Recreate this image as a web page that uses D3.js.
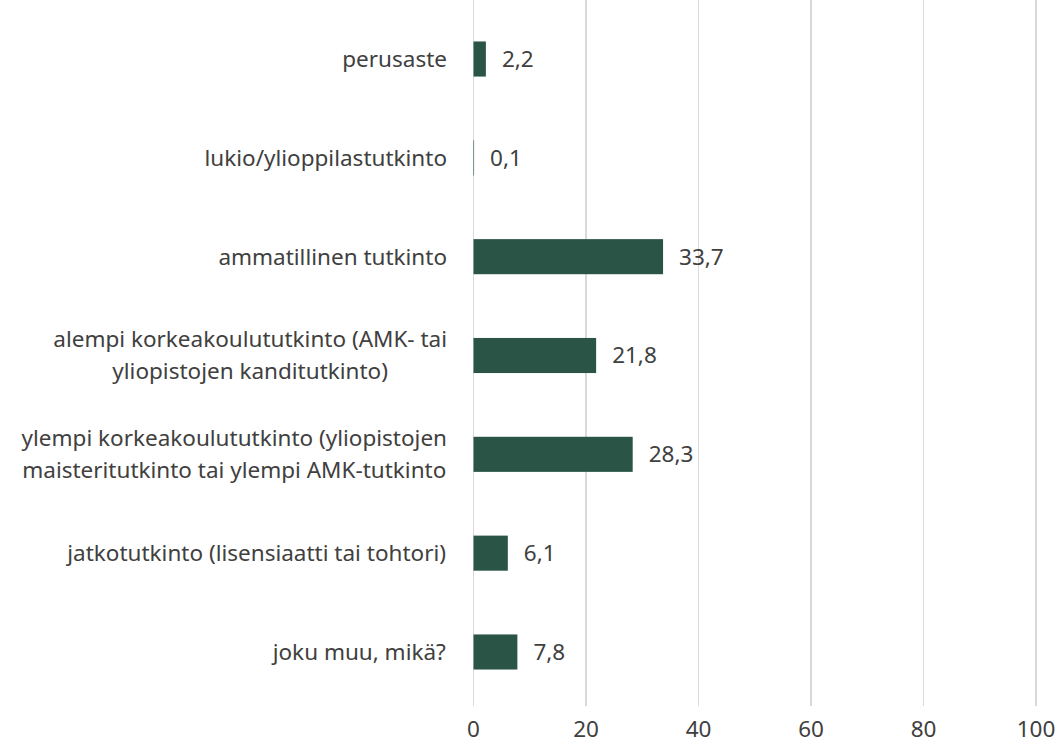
<!DOCTYPE html>
<html lang="fi">
<head>
<meta charset="utf-8">
<title>koulutus</title>
<script src="https://cdn.jsdelivr.net/npm/d3@7"></script>
<style>
  body { margin: 0; background: #fff; font-family: "Noto Sans", sans-serif; }
  .grid line { stroke: #d9d9d9; stroke-width: 1.5px; shape-rendering: crispEdges; }
  .bar { fill: #2a5446; }
  text { fill: #404040; font-size: 22.5px; }
</style>
</head>
<body>
<script>
var categories = [
  ["perusaste"],
  ["lukio/ylioppilastutkinto"],
  ["ammatillinen tutkinto"],
  ["alempi korkeakoulututkinto (AMK- tai", "yliopistojen kanditutkinto)"],
  ["ylempi korkeakoulututkinto (yliopistojen", "maisteritutkinto tai ylempi AMK-tutkinto"],
  ["jatkotutkinto (lisensiaatti tai tohtori)"],
  ["joku muu, mikä?"]
];
var values = [2.2, 0.1, 33.7, 21.8, 28.3, 6.1, 7.8];
var ticks = [0, 20, 40, 60, 80, 100];

var w = 1060, h = 746,
    lineStep = 32;
var fi = d3.formatLocale({decimal: ",", thousands: " ", grouping: [3], currency: ["", " €"]});
var fmt = fi.format(".1f");

var svg = d3.select("body").append("svg")
  .attr("width", w)
  .attr("height", h)
  .style("display", "block");

var x = d3.scaleLinear().domain([0, 100]).range([473.5, 1036]);
var y = d3.scaleBand()
  .domain(d3.range(categories.length))
  .range([9.6, 701.4])
  .paddingInner(0.645)
  .paddingOuter(0.3225);

// gridlines
svg.append("g").attr("class", "grid")
  .selectAll("line").data(ticks).enter().append("line")
  .attr("x1", function(d) { return x(d); })
  .attr("x2", function(d) { return x(d); })
  .attr("y1", 0)
  .attr("y2", 706);

// tick labels
svg.append("g").selectAll("text").data(ticks).enter().append("text")
  .attr("x", function(d) { return x(d); })
  .attr("y", 729)
  .attr("dy", "0.35em")
  .attr("text-anchor", "middle")
  .text(function(d) { return d; });

// bars
svg.append("g").selectAll("rect").data(values).enter().append("rect")
  .attr("class", "bar")
  .attr("x", x(0))
  .attr("y", function(d, i) { return y(i); })
  .attr("width", function(d) { return x(d) - x(0); })
  .attr("height", y.bandwidth());

// value labels
svg.append("g").selectAll("text").data(values).enter().append("text")
  .attr("x", function(d) { return x(d) + 16; })
  .attr("y", function(d, i) { return y(i) + y.bandwidth() / 2; })
  .attr("dy", "0.35em")
  .text(function(d) { return fmt(d); });

// category labels
var cat = svg.append("g").selectAll("text").data(categories).enter().append("text")
  .attr("text-anchor", "middle")
  .attr("y", function(d, i) { return y(i) + y.bandwidth() / 2 - (d.length - 1) * lineStep / 2; });

cat.each(function(lines) {
  var t = d3.select(this);
  lines.forEach(function(line, k) {
    t.append("tspan")
      .attr("x", 0)
      .attr("dy", k === 0 ? "0.35em" : lineStep)
      .text(line);
  });
});

// right-align the block, center the lines inside it
cat.each(function() {
  var bb = this.getBBox();
  d3.select(this).selectAll("tspan").attr("x", 447 - bb.width / 2);
});
</script>
</body>
</html>
